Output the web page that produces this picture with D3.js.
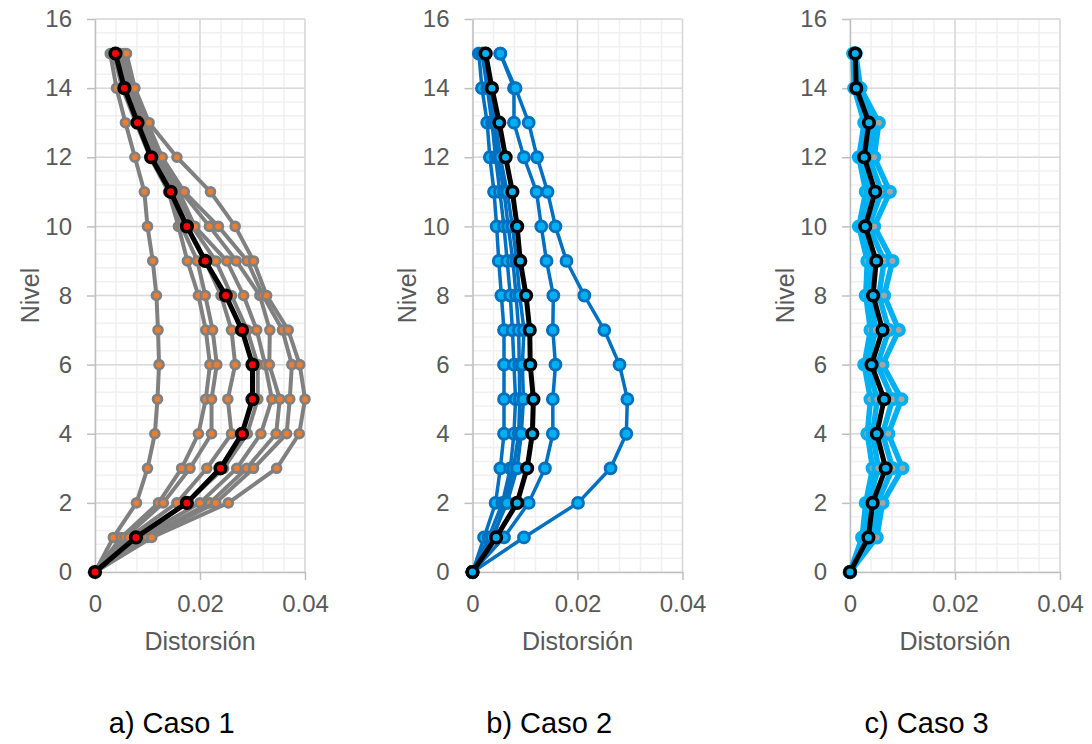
<!DOCTYPE html>
<html>
<head>
<meta charset="utf-8">
<script src="https://cdn.jsdelivr.net/npm/d3@7"></script>
<style>
  body { margin: 0; background: #fff; }
  svg { display: block; font-family: "Liberation Sans", Arial, sans-serif; }
</style>
</head>
<body>
<div id="chart"></div>
<script>
// niveles (eje y)
const levels = [0, 1, 2, 3, 4, 5, 6, 7, 8, 9, 10, 11, 12, 13, 14, 15];
const xTicks = [0, 0.02, 0.04];
const yTicks = [0, 2, 4, 6, 8, 10, 12, 14, 16];
const captions = ["a) Caso 1", "b) Caso 2", "c) Caso 3"];

// Caso 1 - registros individuales
const caso1Series = [
  [0, .0035, .0079, .0100, .0114, .0119, .0122, .0120, .0117, .0110, .0100, .0094, .0076, .0058, .0041, .0029],
  [0, .0050, .0121, .0165, .0197, .0211, .0219, .0211, .0197, .0176, .0159, .0140, .0105, .0078, .0052, .0035],
  [0, .0057, .0130, .0181, .0222, .0222, .0232, .0224, .0210, .0195, .0165, .0145, .0108, .0082, .0056, .0038],
  [0, .0065, .0156, .0213, .0260, .0253, .0267, .0260, .0240, .0210, .0175, .0150, .0110, .0085, .0058, .0040],
  [0, .0080, .0175, .0245, .0290, .0310, .0310, .0290, .0260, .0230, .0185, .0155, .0115, .0088, .0060, .0042],
  [0, .0085, .0200, .0270, .0316, .0337, .0324, .0308, .0283, .0251, .0190, .0160, .0120, .0092, .0062, .0045],
  [0, .0095, .0219, .0289, .0345, .0352, .0332, .0333, .0314, .0269, .0218, .0165, .0125, .0095, .0066, .0048],
  [0, .0100, .0230, .0302, .0365, .0371, .0375, .0357, .0320, .0290, .0235, .0170, .0128, .0100, .0072, .0055],
  [0, .0108, .0254, .0346, .0389, .0400, .0390, .0368, .0327, .0302, .0267, .0220, .0156, .0103, .0076, .0060]
];
const caso1Mean = [0, .0078, .0175, .0239, .0280, .0300, .0300, .0280, .0249, .0210, .0175, .0144, .0107, .0081, .0056, .0039];

// Caso 2
const caso2Series = [
  [0, .0022, .0044, .0053, .0060, .0060, .0060, .0060, .0055, .0050, .0046, .0041, .0033, .0028, .0018, .0012],
  [0, .0031, .0057, .0072, .0079, .0082, .0079, .0076, .0072, .0066, .0060, .0052, .0044, .0037, .0028, .0018],
  [0, .0040, .0062, .0078, .0088, .0090, .0089, .0088, .0083, .0077, .0068, .0060, .0048, .0040, .0030, .0020],
  [0, .0037, .0066, .0085, .0093, .0097, .0095, .0098, .0090, .0084, .0076, .0066, .0053, .0044, .0034, .0025],
  [0, .0060, .0107, .0138, .0153, .0153, .0158, .0153, .0154, .0141, .0131, .0122, .0098, .0079, .0079, .0053],
  [0, .0098, .0201, .0263, .0293, .0295, .0280, .0251, .0213, .0179, .0158, .0143, .0123, .0107, .0082, .0053]
];
const caso2Mean = [0, .0045, .0085, .0104, .0114, .0116, .0110, .0109, .0102, .0091, .0085, .0076, .0063, .0051, .0037, .0025];

// Caso 3
const caso3Series = [
  [0, .0023, .0030, .0043, .0033, .0039, .0027, .0039, .0030, .0033, .0017, .0030, .0017, .0027, .0008, .0006],
  [0, .0030, .0035, .0054, .0043, .0052, .0033, .0049, .0039, .0043, .0023, .0039, .0022, .0033, .0011, .0008],
  [0, .0043, .0052, .0081, .0062, .0081, .0052, .0074, .0055, .0065, .0036, .0060, .0036, .0046, .0014, .0010],
  [0, .0051, .0062, .0100, .0073, .0098, .0062, .0093, .0065, .0081, .0046, .0076, .0046, .0055, .0020, .0011]
];
const caso3Mean = [0, .0035, .0043, .0068, .0051, .0065, .0041, .0062, .0044, .0050, .0029, .0048, .0027, .0036, .0012, .0010];

const W = 1092, H = 744;
const svg = d3.select('#chart').append('svg')
  .attr('width', W).attr('height', H);

const y = d3.scaleLinear().domain([0, 16]).range([572, 19]);

const panels = [
  { series: caso1Series, mean: caso1Mean, left: 95,
    line: '#808080', lw: 4, mFill: '#ed7d31', mStroke: '#808080', r: 4.4, mw: 2.8, meanFill: '#ff0000' },
  { series: caso2Series, mean: caso2Mean, left: 472.5,
    line: '#0070c0', lw: 3.5, mFill: '#00b0f0', mStroke: '#0070c0', r: 5.4, mw: 3, meanFill: '#00b0f0' },
  { series: caso3Series, mean: caso3Mean, left: 850,
    line: '#00b0f0', lw: 5.5, mFill: '#a5a5a5', mStroke: '#00b0f0', r: 5, mw: 4, meanFill: '#00b0f0' }
];

panels.forEach((p, pi) => {
  const x = d3.scaleLinear().domain([0, 0.04]).range([p.left, p.left + 210]);
  const g = svg.append('g');

  // gridlines menores y mayores
  const minorX = d3.range(0, 0.0401, 0.004);
  const minorY = d3.range(0, 16.01, 0.4);
  g.selectAll('.vminor').data(minorX).enter().append('line')
    .attr('x1', d => x(d)).attr('x2', d => x(d))
    .attr('y1', y(0)).attr('y2', y(16))
    .attr('stroke', '#f0f0f0').attr('stroke-width', 1.5);
  g.selectAll('.hminor').data(minorY).enter().append('line')
    .attr('x1', x(0)).attr('x2', x(0.04))
    .attr('y1', d => y(d)).attr('y2', d => y(d))
    .attr('stroke', '#f0f0f0').attr('stroke-width', 1.5);
  g.selectAll('.vmajor').data(xTicks.slice(1)).enter().append('line')
    .attr('x1', d => x(d)).attr('x2', d => x(d))
    .attr('y1', y(0)).attr('y2', y(16))
    .attr('stroke', '#d9d9d9').attr('stroke-width', 1.5);
  g.selectAll('.hmajor').data(yTicks.slice(1)).enter().append('line')
    .attr('x1', x(0)).attr('x2', x(0.04))
    .attr('y1', d => y(d)).attr('y2', d => y(d))
    .attr('stroke', '#d9d9d9').attr('stroke-width', 1.5);

  // ejes
  const xAxis = g.append('g')
    .attr('transform', `translate(0, ${y(0)})`)
    .call(d3.axisBottom(x).tickValues(xTicks).tickSize(8).tickSizeOuter(0).tickPadding(15)
      .tickFormat(d => d === 0 ? '0' : d.toFixed(2)));
  const yAxis = g.append('g')
    .attr('transform', `translate(${x(0)}, 0)`)
    .call(d3.axisLeft(y).tickValues(yTicks).tickSize(8).tickSizeOuter(0).tickPadding(15));
  [xAxis, yAxis].forEach(a => {
    a.select('.domain').attr('stroke', '#bfbfbf').attr('stroke-width', 1.5);
    a.selectAll('.tick line').attr('stroke', '#bfbfbf').attr('stroke-width', 1.5);
    a.selectAll('.tick text').attr('fill', '#595959')
      .style('font-size', '24px').style('font-family', '"Liberation Sans", Arial, sans-serif');
  });

  // títulos de ejes
  g.append('text')
    .attr('x', x(0.02)).attr('y', 650)
    .attr('text-anchor', 'middle').attr('fill', '#595959')
    .style('font-size', '25px')
    .text('Distorsión');
  g.append('text')
    .attr('transform', `translate(${x(0) - 65}, ${y(8)}) rotate(-90)`)
    .attr('text-anchor', 'middle').attr('dy', '0.35em').attr('fill', '#595959')
    .style('font-size', '25px')
    .text('Nivel');

  // leyenda inferior
  g.append('text')
    .attr('x', x(0.0146)).attr('y', 733)
    .attr('text-anchor', 'middle').attr('fill', '#000')
    .style('font-size', '29px')
    .text(captions[pi]);

  const line = d3.line().x(d => x(d[0])).y(d => y(d[1]));

  // registros
  p.series.forEach(s => {
    const pts = s.map((v, i) => [v, levels[i]]);
    g.append('path').datum(pts)
      .attr('d', line).attr('fill', 'none')
      .attr('stroke', p.line).attr('stroke-width', p.lw)
      .attr('stroke-linejoin', 'round');
    g.selectAll(null).data(pts).enter().append('circle')
      .attr('cx', d => x(d[0])).attr('cy', d => y(d[1]))
      .attr('r', p.r)
      .attr('fill', p.mFill).attr('stroke', p.mStroke).attr('stroke-width', p.mw);
  });

  // promedio
  const mpts = p.mean.map((v, i) => [v, levels[i]]);
  g.append('path').datum(mpts)
    .attr('d', line).attr('fill', 'none')
    .attr('stroke', '#000').attr('stroke-width', 5)
    .attr('stroke-linejoin', 'round');
  g.selectAll(null).data(mpts).enter().append('circle')
    .attr('cx', d => x(d[0])).attr('cy', d => y(d[1]))
    .attr('r', 5.3)
    .attr('fill', p.meanFill).attr('stroke', '#000').attr('stroke-width', 3.6);
});
</script>
</body>
</html>
